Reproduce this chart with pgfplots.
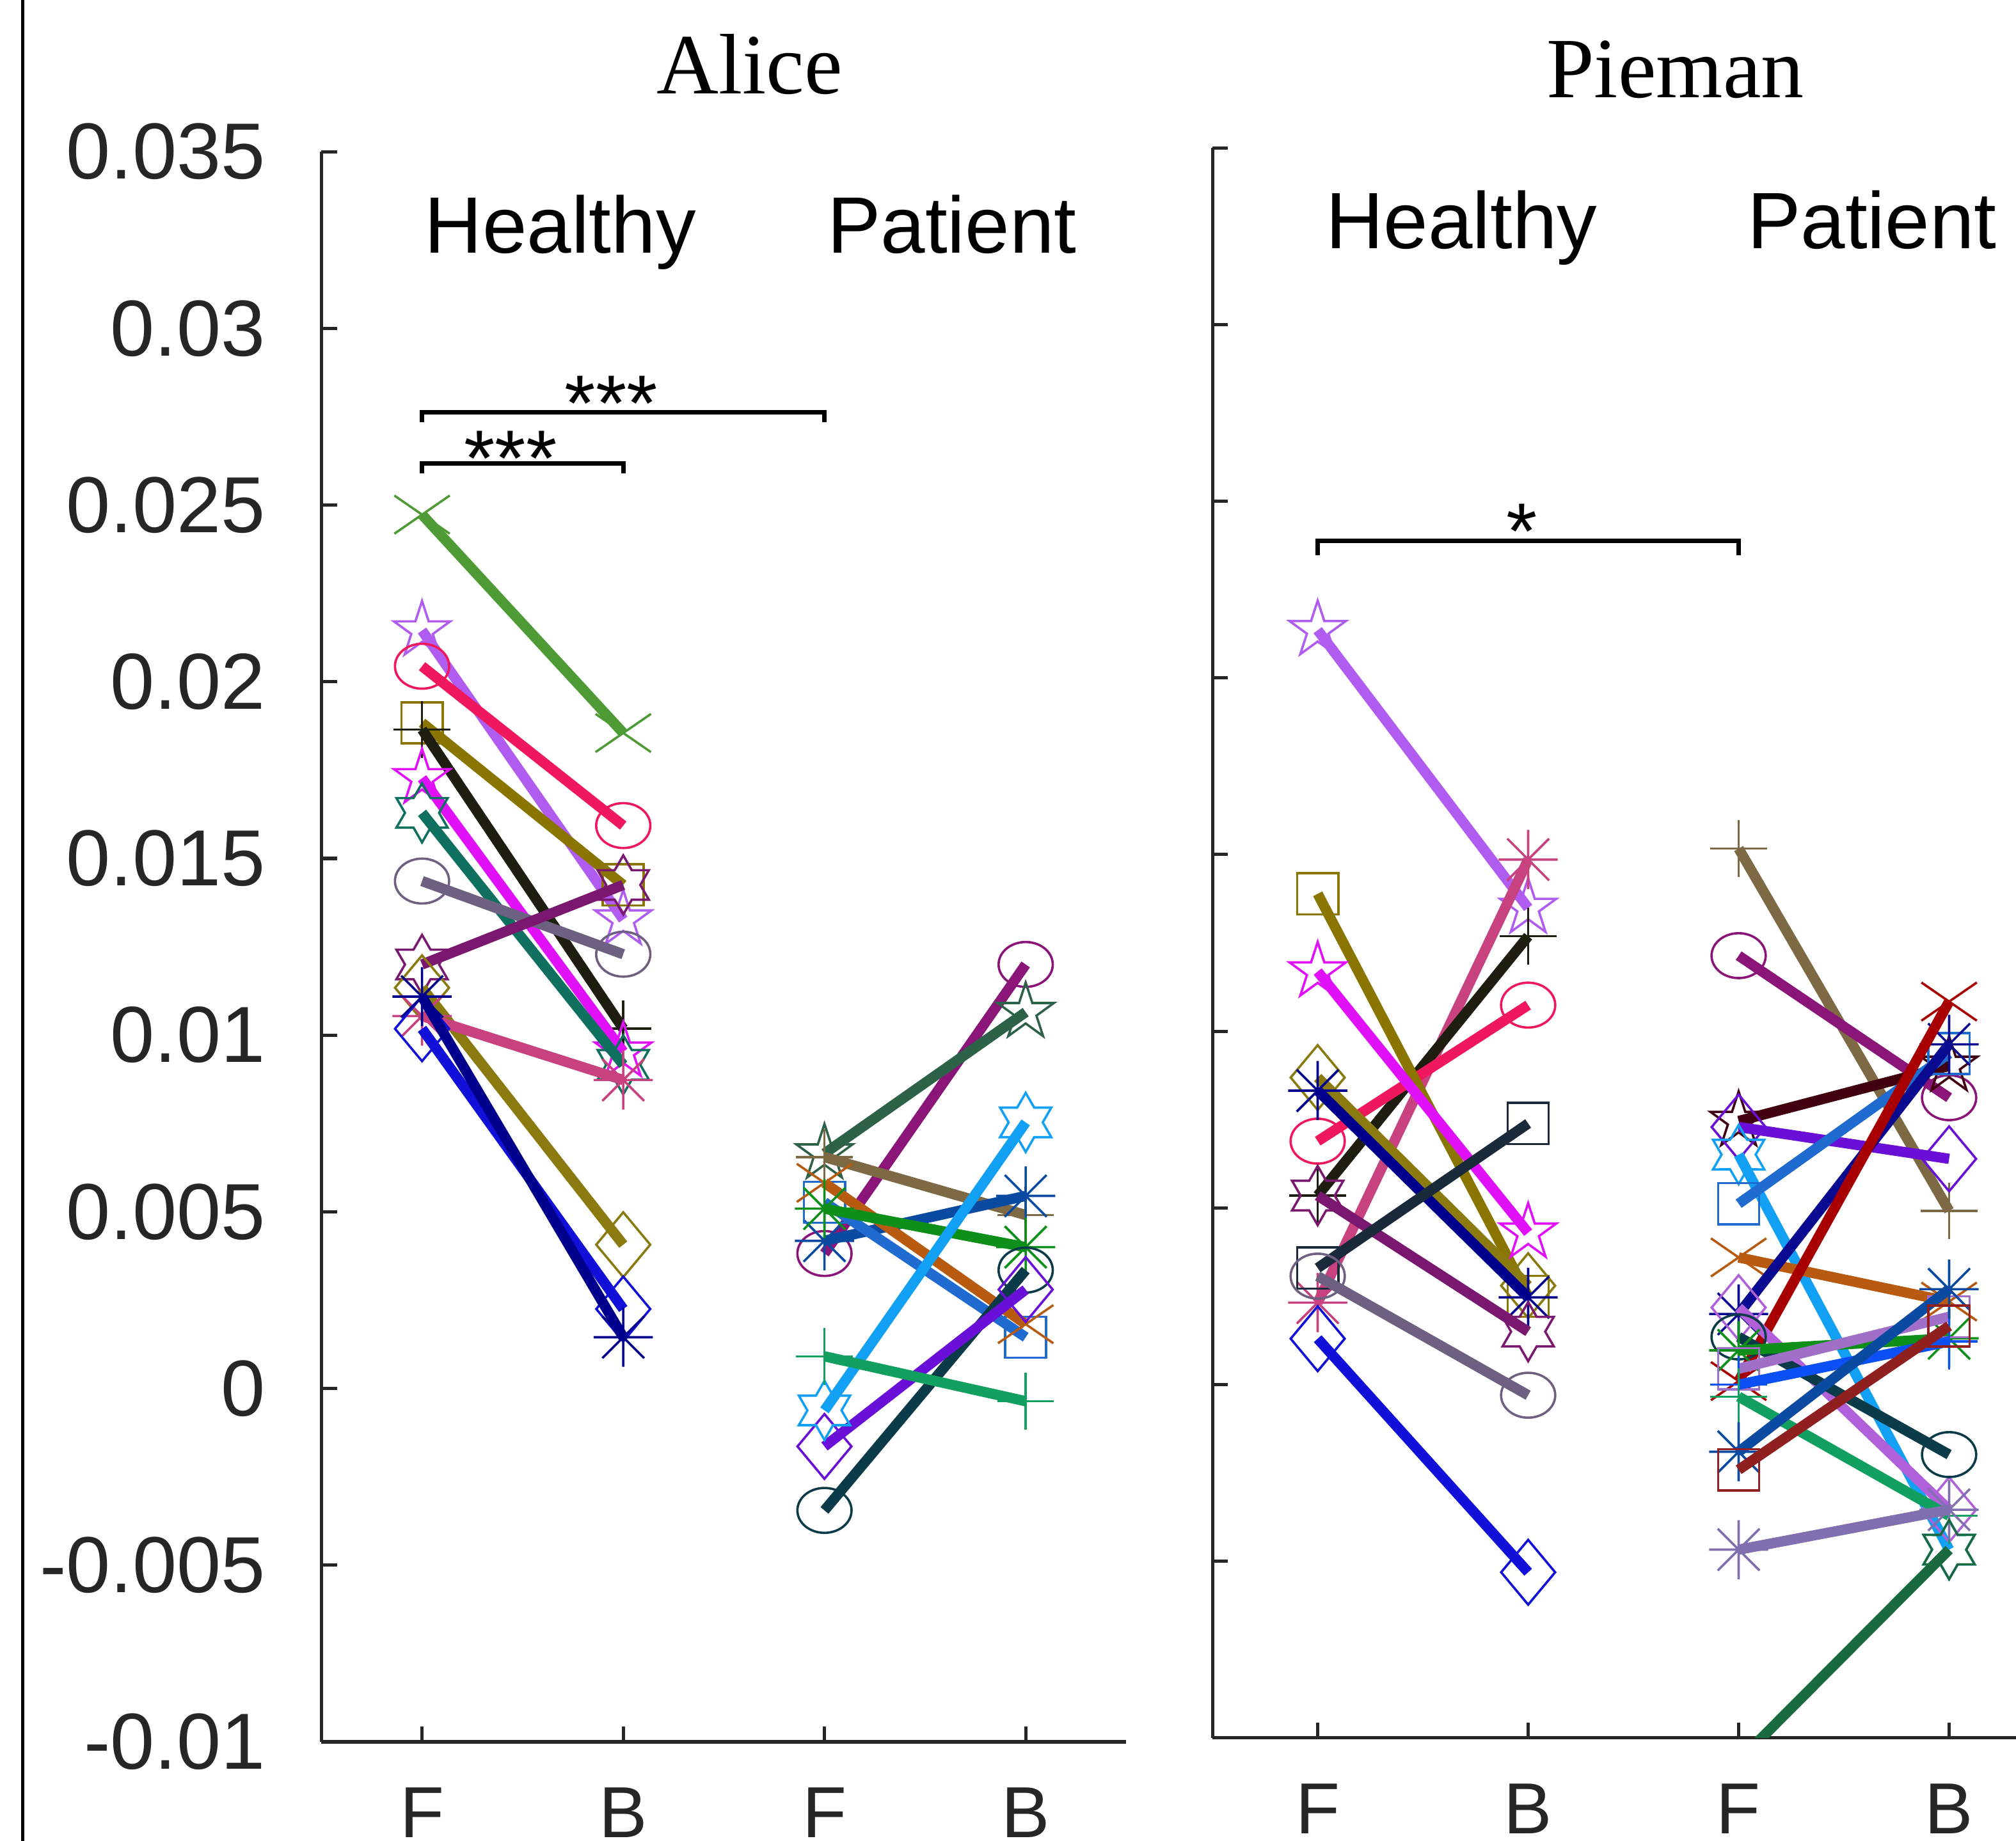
\documentclass[border=0pt]{standalone}
\usepackage{pgfplots}
\pgfplotsset{compat=1.18}
\usepackage{fontspec}
\setmainfont{Liberation Sans}
\newfontfamily\serifT{Liberation Serif}
\usetikzlibrary{plotmarks}

\definecolor{axgray}{HTML}{262626}
% healthy colours
\definecolor{hgreen}{HTML}{4E9A34}
\definecolor{hlilac}{HTML}{B05CF0}
\definecolor{hred}{HTML}{F0185C}
\definecolor{holive}{HTML}{8A7500}
\definecolor{hblack}{HTML}{1E1E10}
\definecolor{hmag}{HTML}{E010F8}
\definecolor{hteal}{HTML}{107060}
\definecolor{hgrayp}{HTML}{6E6080}
\definecolor{hdpurp}{HTML}{7A1870}
\definecolor{holived}{HTML}{8A7A10}
\definecolor{hpink}{HTML}{C8427F}
\definecolor{hblue}{HTML}{1010D8}
\definecolor{hnavy}{HTML}{00008C}
\definecolor{hslate}{HTML}{1A2A3A}
% patient colours
\definecolor{ppurp}{HTML}{8A1478}
\definecolor{pdgreen}{HTML}{2D6248}
\definecolor{pkhaki}{HTML}{7D6A45}
\definecolor{pnavyb}{HTML}{0A4AA0}
\definecolor{pblue}{HTML}{1F6BD0}
\definecolor{porange}{HTML}{B85A10}
\definecolor{pgreen}{HTML}{0E8F1A}
\definecolor{pdteal}{HTML}{0B3A48}
\definecolor{pviolet}{HTML}{6A0FD8}
\definecolor{plblue}{HTML}{12A0F5}
\definecolor{pgreen2}{HTML}{12A060}
\definecolor{pmaroon}{HTML}{40000F}
\definecolor{pnavy}{HTML}{0A0A90}
\definecolor{pdred}{HTML}{A80000}
\definecolor{plpurp}{HTML}{B060D8}
\definecolor{plav}{HTML}{A070C8}
\definecolor{pbblue}{HTML}{0A50F5}
\definecolor{pbrred}{HTML}{902020}
\definecolor{pglav}{HTML}{8070B0}
\definecolor{pdgreen2}{HTML}{1A6A40}

\pgfdeclareplotmark{ell}{%
 \pgfpathellipse{\pgfpointorigin}{\pgfqpoint{1.17\pgfplotmarksize}{0pt}}{\pgfqpoint{0pt}{0.97\pgfplotmarksize}}%
 \pgfusepathqstroke}
\pgfdeclareplotmark{dia}{%
 \pgfpathmoveto{\pgfqpoint{0pt}{1.2\pgfplotmarksize}}%
 \pgfpathlineto{\pgfqpoint{\pgfplotmarksize}{0pt}}%
 \pgfpathlineto{\pgfqpoint{0pt}{-1.2\pgfplotmarksize}}%
 \pgfpathlineto{\pgfqpoint{-\pgfplotmarksize}{0pt}}%
 \pgfpathclose\pgfusepathqstroke}
\pgfdeclareplotmark{ast8}{%
 \pgfpathmoveto{\pgfqpoint{-\pgfplotmarksize}{0pt}}\pgfpathlineto{\pgfqpoint{\pgfplotmarksize}{0pt}}%
 \pgfpathmoveto{\pgfqpoint{0pt}{-\pgfplotmarksize}}\pgfpathlineto{\pgfqpoint{0pt}{\pgfplotmarksize}}%
 \pgfpathmoveto{\pgfqpoint{-.7071\pgfplotmarksize}{-.7071\pgfplotmarksize}}\pgfpathlineto{\pgfqpoint{.7071\pgfplotmarksize}{.7071\pgfplotmarksize}}%
 \pgfpathmoveto{\pgfqpoint{-.7071\pgfplotmarksize}{.7071\pgfplotmarksize}}\pgfpathlineto{\pgfqpoint{.7071\pgfplotmarksize}{-.7071\pgfplotmarksize}}%
 \pgfusepathqstroke}
\pgfdeclareplotmark{pent}{%
 \pgfpathmoveto{\pgfpointpolar{90}{\pgfplotmarksize}}%
 \pgfpathlineto{\pgfpointpolar{126}{0.382\pgfplotmarksize}}%
 \pgfpathlineto{\pgfpointpolar{162}{\pgfplotmarksize}}%
 \pgfpathlineto{\pgfpointpolar{198}{0.382\pgfplotmarksize}}%
 \pgfpathlineto{\pgfpointpolar{234}{\pgfplotmarksize}}%
 \pgfpathlineto{\pgfpointpolar{270}{0.382\pgfplotmarksize}}%
 \pgfpathlineto{\pgfpointpolar{306}{\pgfplotmarksize}}%
 \pgfpathlineto{\pgfpointpolar{342}{0.382\pgfplotmarksize}}%
 \pgfpathlineto{\pgfpointpolar{18}{\pgfplotmarksize}}%
 \pgfpathlineto{\pgfpointpolar{54}{0.382\pgfplotmarksize}}%
 \pgfpathclose\pgfusepathqstroke}
\pgfdeclareplotmark{hexs}{%
 \pgfpathmoveto{\pgfpointpolar{90}{\pgfplotmarksize}}%
 \pgfpathlineto{\pgfpointpolar{120}{0.577\pgfplotmarksize}}%
 \pgfpathlineto{\pgfpointpolar{150}{\pgfplotmarksize}}%
 \pgfpathlineto{\pgfpointpolar{180}{0.577\pgfplotmarksize}}%
 \pgfpathlineto{\pgfpointpolar{210}{\pgfplotmarksize}}%
 \pgfpathlineto{\pgfpointpolar{240}{0.577\pgfplotmarksize}}%
 \pgfpathlineto{\pgfpointpolar{270}{\pgfplotmarksize}}%
 \pgfpathlineto{\pgfpointpolar{300}{0.577\pgfplotmarksize}}%
 \pgfpathlineto{\pgfpointpolar{330}{\pgfplotmarksize}}%
 \pgfpathlineto{\pgfpointpolar{0}{0.577\pgfplotmarksize}}%
 \pgfpathlineto{\pgfpointpolar{30}{\pgfplotmarksize}}%
 \pgfpathlineto{\pgfpointpolar{60}{0.577\pgfplotmarksize}}%
 \pgfpathclose\pgfusepathqstroke}

\tikzset{
 grp/.style={font=\fontsize{17.7}{20}\selectfont, anchor=base, text=black},
 stars/.style={font=\fontsize{17.6}{20}\selectfont, anchor=center, inner sep=0pt, text=black},
 brk/.style={line width=0.35mm, black},
}
\pgfplotsset{
 mO/.style={mark=ell, mark size=1.8mm, mark options={solid, line width=0.18mm}},
 mS/.style={mark=square, mark size=1.6mm, mark options={solid, line width=0.18mm}},
 mD/.style={mark=dia, mark size=2.1mm, mark options={solid, line width=0.18mm}},
 mX/.style={mark=x, mark size=2.1mm, mark options={solid, line width=0.18mm, xscale=1.45}},
 mP/.style={mark=+, mark size=2.2mm, mark options={solid, line width=0.18mm}},
 mA/.style={mark=ast8, mark size=2.3mm, mark options={solid, line width=0.18mm}},
 mPe/.style={mark=pent, mark size=2.3mm, mark options={solid, line width=0.18mm}},
 mH/.style={mark=hexs, mark size=2.3mm, mark options={solid, line width=0.18mm}},
 ser/.style 2 args={color=#1, line width=0.8mm, #2},
 base/.style={
  scale only axis, anchor=south west,
  axis lines=left,
  axis line style={-, line width=0.25mm, color=axgray},
  tick align=inside, major tick length=1.2mm,
  tick style={line width=0.25mm, color=axgray},
  ymin=-0.01, ymax=0.035, xmin=0.5,
  scaled y ticks=false,
  ytick={-0.01,-0.005,0,0.005,0.01,0.015,0.02,0.025,0.03,0.035},
  xtick={1,2,3,4}, xticklabels={F,B,F,B},
  xticklabel style={font=\fontsize{16}{18}\selectfont, anchor=north, inner sep=0pt, yshift=-3.5mm, text=axgray},
  yticklabel style={font=\fontsize{17.6}{20}\selectfont, anchor=east, inner sep=0pt, xshift=-4.3mm, text=axgray},
  height=123.7mm,
  clip marker paths=true,
 },
}

\begin{document}
\begin{tikzpicture}
\useasboundingbox (0,0) rectangle (156.8mm,-143.2mm);
\clip (0,0) rectangle (156.8mm,-143.2mm);
\draw[line width=0.25mm] (1.75mm,0) -- (1.75mm,-143.2mm);
\node[font=\serifT\fontsize{19}{22}\selectfont, anchor=base] at (58.3mm,-7.3mm) {Alice};
\node[font=\serifT\fontsize{19}{22}\selectfont, anchor=base] at (130.3mm,-7.6mm) {Pieman};

% ---------------- Alice ----------------
\begin{axis}[base, at={(25mm,-135.5mm)}, width=62.6mm, xmax=4.5,
  yticklabels={-0.01,-0.005,0,0.005,0.01,0.015,0.02,0.025,0.03,0.035}]
% healthy
\addplot[ser={hgreen}{mX}] coordinates {(1,0.02473)(2,0.01855)};
\addplot[ser={hlilac}{mPe}] coordinates {(1,0.02145)(2,0.01327)};
\addplot[ser={hred}{mO}] coordinates {(1,0.02044)(2,0.01593)};
\addplot[ser={holive}{mS}] coordinates {(1,0.01884)(2,0.01425)};
\addplot[ser={hblack}{mP}] coordinates {(1,0.01865)(2,0.01018)};
\addplot[ser={hmag}{mPe}] coordinates {(1,0.01727)(2,0.00953)};
\addplot[ser={hteal}{mH}] coordinates {(1,0.01629)(2,0.00916)};
\addplot[ser={hgrayp}{mO}] coordinates {(1,0.01436)(2,0.01229)};
\addplot[ser={hdpurp}{mH}] coordinates {(1,0.01200)(2,0.01425)};
\addplot[ser={holived}{mD}] coordinates {(1,0.01134)(2,0.00407)};
\addplot[ser={hpink}{mA}] coordinates {(1,0.01054)(2,0.00873)};
\addplot[ser={hblue}{mD}] coordinates {(1,0.01018)(2,0.00225)};
\addplot[ser={hnavy}{mA}] coordinates {(1,0.01109)(2,0.00145)};
% patients
\addplot[ser={ppurp}{mO}] coordinates {(3,0.00382)(4,0.01200)};
\addplot[ser={pdgreen}{mPe}] coordinates {(3,0.00665)(4,0.01065)};
\addplot[ser={pkhaki}{mP}] coordinates {(3,0.00655)(4,0.00491)};
\addplot[ser={pnavyb}{mA}] coordinates {(3,0.00418)(4,0.00545)};
\addplot[ser={pblue}{mS}] coordinates {(3,0.00527)(4,0.00145)};
\addplot[ser={porange}{mX}] coordinates {(3,0.00582)(4,0.00182)};
\addplot[ser={pgreen}{mA}] coordinates {(3,0.00509)(4,0.00400)};
\addplot[ser={pdteal}{mO}] coordinates {(3,-0.00345)(4,0.00335)};
\addplot[ser={pviolet}{mD}] coordinates {(3,-0.00164)(4,0.00280)};
\addplot[ser={plblue}{mH}] coordinates {(3,-0.00062)(4,0.00753)};
\addplot[ser={pgreen2}{mP}] coordinates {(3,0.00091)(4,-0.00036)};
% labels and brackets
\node[grp] at (axis cs:1.687,0.03214) {Healthy};
\node[grp] at (axis cs:3.633,0.03214) {Patient};
\draw[brk] (axis cs:1,0.02734) -- (axis cs:1,0.02763) -- (axis cs:3,0.02763) -- (axis cs:3,0.02734);
\draw[brk] (axis cs:1,0.02589) -- (axis cs:1,0.02618) -- (axis cs:2,0.02618) -- (axis cs:2,0.02589);
\node[stars] at (axis cs:1.94,0.02787) {***};
\node[stars] at (axis cs:1.44,0.02631) {***};
\end{axis}

% ---------------- Pieman ----------------
\begin{axis}[base, at={(94.3mm,-135.2mm)}, width=62.5mm, xmax=4.318,
  yticklabels={}]
% healthy
\addplot[ser={hlilac}{mPe}] coordinates {(1,0.02135)(2,0.01349)};
\addplot[ser={hpink}{mA}] coordinates {(1,0.00232)(2,0.01486)};
\addplot[ser={hblack}{mP}] coordinates {(1,0.00535)(2,0.01269)};
\addplot[ser={hred}{mO}] coordinates {(1,0.00689)(2,0.01074)};
\addplot[ser={holive}{mS}] coordinates {(1,0.01389)(2,0.00250)};
\addplot[ser={hmag}{mPe}] coordinates {(1,0.01169)(2,0.00430)};
\addplot[ser={holived}{mD}] coordinates {(1,0.00869)(2,0.00280)};
\addplot[ser={hnavy}{mA}] coordinates {(1,0.00832)(2,0.00247)};
\addplot[ser={hdpurp}{mH}] coordinates {(1,0.00535)(2,0.00150)};
\addplot[ser={hslate}{mS}] coordinates {(1,0.00330)(2,0.00739)};
\addplot[ser={hgrayp}{mO}] coordinates {(1,0.00307)(2,-0.00030)};
\addplot[ser={hblue}{mD}] coordinates {(1,0.00130)(2,-0.00531)};
% patients
\addplot[ser={pkhaki}{mP}] coordinates {(3,0.01517)(4,0.00492)};
\addplot[ser={ppurp}{mO}] coordinates {(3,0.01214)(4,0.00812)};
\addplot[ser={pmaroon}{mPe}] coordinates {(3,0.00746)(4,0.00902)};
\addplot[ser={pviolet}{mD}] coordinates {(3,0.00729)(4,0.00639)};
\addplot[ser={plblue}{mH}] coordinates {(3,0.00651)(4,-0.00467)};
\addplot[ser={pblue}{mS}] coordinates {(3,0.00512)(4,0.00937)};
\addplot[ser={porange}{mX}] coordinates {(3,0.00360)(4,0.00235)};
\addplot[ser={pnavy}{mA}] coordinates {(3,0.00200)(4,0.00963)};
\addplot[ser={pdred}{mX}] coordinates {(3,0.00010)(4,0.01084)};
\addplot[ser={plpurp}{mD}] coordinates {(3,0.00218)(4,-0.00354)};
\addplot[ser={pdteal}{mO}] coordinates {(3,0.00135)(4,-0.00198)};
\addplot[ser={pgreen}{mA}] coordinates {(3,0.00097)(4,0.00131)};
\addplot[ser={plav}{mS}] coordinates {(3,0.00045)(4,0.00192)};
\addplot[ser={pbblue}{mP}] coordinates {(3,0.00000)(4,0.00122)};
\addplot[ser={pgreen2}{mP}] coordinates {(3,-0.00034)(4,-0.00371)};
\addplot[ser={pnavyb}{mA}] coordinates {(3,-0.00190)(4,0.00270)};
\addplot[ser={pbrred}{mS}] coordinates {(3,-0.00241)(4,0.00166)};
\addplot[ser={pglav}{mA}] coordinates {(3,-0.00467)(4,-0.00354)};
\addplot[ser={pdgreen2}{mH}] coordinates {(3,-0.01065)(4,-0.00467)};
% labels and brackets
\node[grp] at (axis cs:1.684,0.03216) {Healthy};
\node[grp] at (axis cs:3.633,0.03216) {Patient};
\draw[brk] (axis cs:1,0.02347) -- (axis cs:1,0.02387) -- (axis cs:3,0.02387) -- (axis cs:3,0.02347);
\node[stars] at (axis cs:1.97,0.02414) {*};
\end{axis}
\end{tikzpicture}
\end{document}
